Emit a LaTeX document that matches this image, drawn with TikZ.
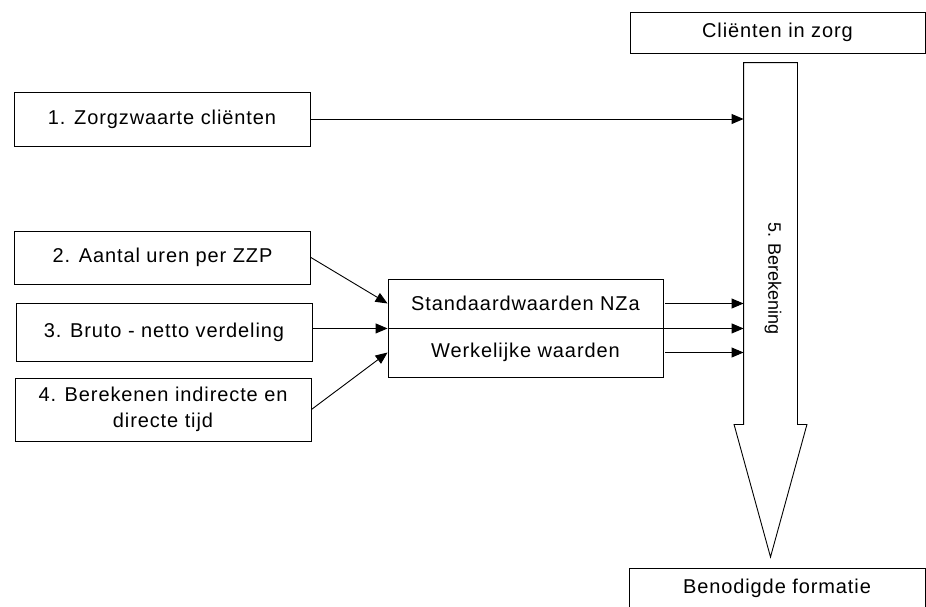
\documentclass[tikz,border=0pt]{standalone}
\usepackage{fontspec}
\setmainfont{Liberation Sans}[LetterSpace=4.5]
\newfontfamily\rechtfont{Liberation Sans}
\usetikzlibrary{arrows.meta}
\begin{document}
\begin{tikzpicture}[x=1pt,y=-1pt,line width=0.9pt,
  font=\fontsize{20}{26}\selectfont,
  stap/.style={draw,rectangle,minimum width=296pt,inner sep=0pt,align=center},
  pijl/.style={-{Triangle[length=12pt,width=10pt]}}]
\useasboundingbox (0,0) rectangle (926,606);
% boxes left
\node[stap,minimum height=54pt] (zorgzwaarte) at (162,119) {1. Zorgzwaarte cliënten};
\node[stap,minimum height=53pt] (uren) at (162.5,257.5) {2. Aantal uren per ZZP};
\node[stap,minimum height=58pt] (bruto) at (164,332) {3. Bruto - netto verdeling};
\node[stap,minimum height=63pt] (tijd) at (163,409.5) {4. Berekenen indirecte en\\directe tijd};
% middle
\node[stap,minimum width=275pt,minimum height=49pt] (nza) at (525.5,303.5) {Standaardwaarden NZa};
\node[stap,minimum width=275pt,minimum height=49pt] (werk) at (525.5,352.5) {Werkelijke waarden};
% right
\node[stap,minimum width=295pt,minimum height=41pt] (clienten) at (777.5,32.5) {Cliënten in zorg};
\node[stap,minimum width=296pt,minimum height=40pt] (formatie) at (777,588) {Benodigde formatie};
\node[minimum width=53pt,minimum height=361pt,inner sep=0pt] (shaft) at (770.5,243.5) {};
\coordinate (tip) at (770.5,557);
\draw (shaft.south west) -- (shaft.north west) -- (shaft.north east) -- (shaft.south east)
  -- ++(9.5,0) -- (tip) -- ([xshift=-9.5pt]shaft.south west) -- cycle;
\node[rotate=-90,font=\rechtfont\fontsize{18}{22}\selectfont] (berekening) at (773,278.5) {5. Berekening};
\draw[pijl] (zorgzwaarte.east) -- (zorgzwaarte.east -| shaft.west);
\draw[pijl] (uren.east) -- (nza.west);
\draw[pijl] (bruto.east |- nza.south west) -- (nza.south west);
\draw[pijl] (tijd.east) -- (werk.west);
\draw[pijl] ([xshift=2pt]nza.east) -- (nza.east -| shaft.west);
\draw[pijl] (nza.south east) -- (nza.south east -| shaft.west);
\draw[pijl] ([xshift=2pt]werk.east) -- (werk.east -| shaft.west);
\end{tikzpicture}
\end{document}
